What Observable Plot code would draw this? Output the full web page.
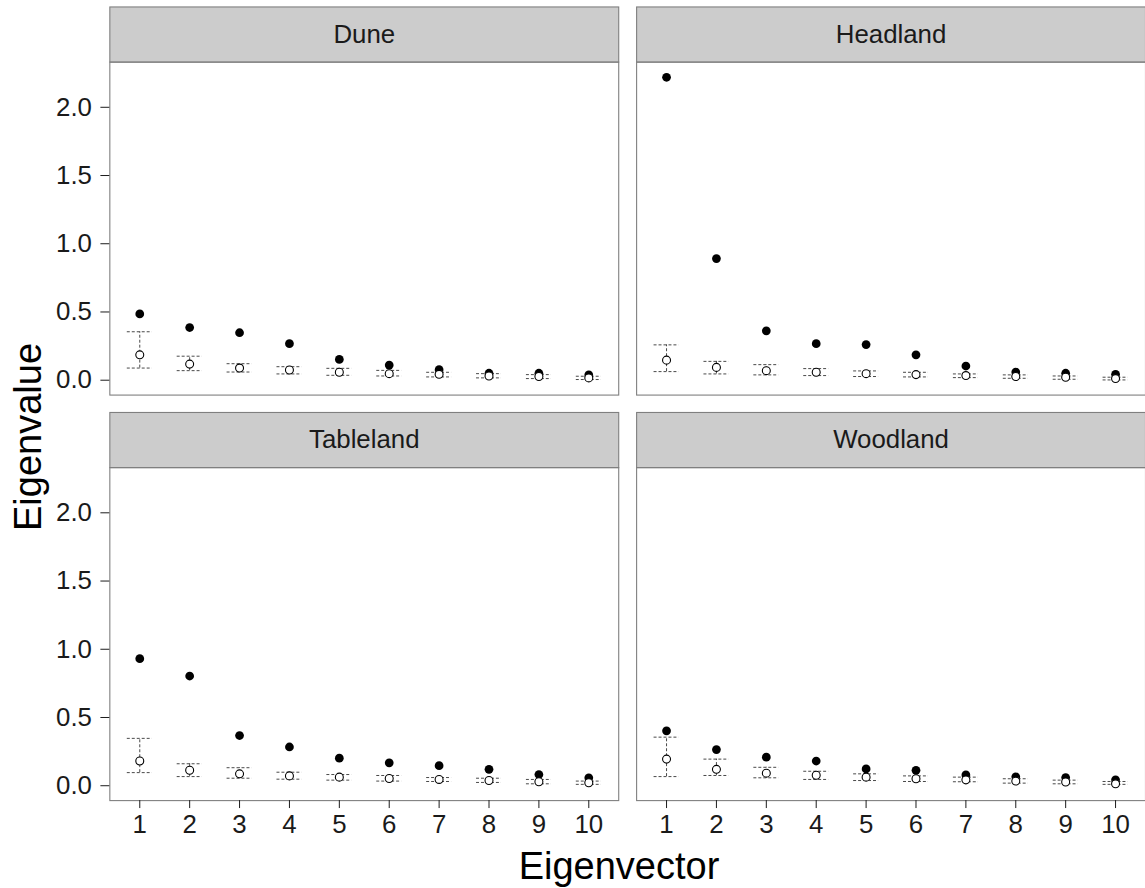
<!DOCTYPE html>
<html>
<head>
<meta charset="utf-8">
<script src="https://cdn.jsdelivr.net/npm/d3@7"></script>
<script src="https://cdn.jsdelivr.net/npm/@observablehq/plot@0.6"></script>
<style>
  html, body { margin: 0; padding: 0; background: #fff; overflow: hidden; }
  #wrap { position: relative; width: 1145px; height: 888px; overflow: hidden; font-family: "Liberation Sans", Arial, Helvetica, sans-serif; }
  #chart { position: absolute; left: 0; top: 0; }
  .title { position: absolute; color: #000; font-size: 38px; white-space: nowrap; line-height: 1; }
  #xtitle { left: 619px; top: 866px; transform: translate(-50%, -50%); }
  #ytitle { left: 28px; top: 437px; transform: translate(-50%, -50%) rotate(-90deg); }
</style>
</head>
<body>
<div id="wrap">
  <div id="chart"></div>
  <div class="title" id="xtitle">Eigenvector</div>
  <div class="title" id="ytitle">Eigenvalue</div>
</div>
<script>
// ---- data ----
const panels = ["Dune", "Headland", "Tableland", "Woodland"];
const eigenvectors = [1, 2, 3, 4, 5, 6, 7, 8, 9, 10];
const yTicks = [0, 0.5, 1, 1.5, 2];

const duneObserved = [0.486, 0.386, 0.348, 0.268, 0.152, 0.111, 0.077, 0.051, 0.051, 0.039];
const duneNull     = [0.186, 0.118, 0.089, 0.075, 0.058, 0.048, 0.043, 0.031, 0.027, 0.017];
const duneUpper    = [0.355, 0.176, 0.121, 0.099, 0.087, 0.072, 0.058, 0.048, 0.041, 0.029];
const duneLower    = [0.089, 0.070, 0.060, 0.046, 0.036, 0.031, 0.024, 0.017, 0.012, 0.005];

const headlandObserved = [2.220, 0.891, 0.362, 0.268, 0.261, 0.186, 0.104, 0.060, 0.051, 0.043];
const headlandNull     = [0.147, 0.094, 0.070, 0.058, 0.048, 0.041, 0.034, 0.027, 0.022, 0.012];
const headlandUpper    = [0.259, 0.138, 0.114, 0.085, 0.068, 0.058, 0.046, 0.039, 0.031, 0.022];
const headlandLower    = [0.063, 0.046, 0.039, 0.034, 0.027, 0.024, 0.019, 0.014, 0.007, 0.002];

const tablelandObserved = [0.931, 0.804, 0.368, 0.284, 0.202, 0.168, 0.147, 0.120, 0.082, 0.058];
const tablelandNull     = [0.181, 0.113, 0.087, 0.072, 0.063, 0.053, 0.046, 0.038, 0.029, 0.022];
const tablelandUpper    = [0.347, 0.161, 0.132, 0.099, 0.082, 0.075, 0.060, 0.055, 0.046, 0.034];
const tablelandLower    = [0.096, 0.067, 0.055, 0.048, 0.041, 0.034, 0.031, 0.024, 0.014, 0.010];

const woodlandObserved = [0.402, 0.265, 0.209, 0.181, 0.123, 0.113, 0.079, 0.065, 0.060, 0.043];
const woodlandNull     = [0.195, 0.120, 0.092, 0.077, 0.063, 0.051, 0.043, 0.034, 0.027, 0.014];
const woodlandUpper    = [0.356, 0.195, 0.135, 0.106, 0.087, 0.072, 0.063, 0.051, 0.041, 0.031];
const woodlandLower    = [0.067, 0.075, 0.058, 0.046, 0.038, 0.031, 0.029, 0.019, 0.014, 0.010];

const series = {
  Dune: [duneObserved, duneNull, duneUpper, duneLower],
  Headland: [headlandObserved, headlandNull, headlandUpper, headlandLower],
  Tableland: [tablelandObserved, tablelandNull, tablelandUpper, tablelandLower],
  Woodland: [woodlandObserved, woodlandNull, woodlandUpper, woodlandLower]
};

const panelRows = panels.map((name, i) => ({name, col: i % 2, row: Math.floor(i / 2)}));
const rows = panelRows.flatMap(p => {
  const [obs, nul, up, lo] = series[p.name];
  return eigenvectors.map((k, j) => ({panel: p.name, col: p.col, row: p.row, k, obs: obs[j], nul: nul[j], up: up[j], lo: lo[j]}));
});

// ---- layout ----
const W = 1152, H = 888;
const mL = 110, mR = 0, mT = 62, mB = 83;
const gapX = 18, gapY = 73, stripH = 55.5;
const panelW = (W - mL - mR - gapX) / 2;
const panelH = (H - mT - mB - gapY) / 2;
const fxPad = gapX / (panelW + gapX);
const fyPad = gapY / (panelH + gapY);
const halfWidth = 0.25;
const font = "'Liberation Sans', Arial, Helvetica, sans-serif";

const chart = Plot.plot({
  width: W,
  height: H,
  marginLeft: mL, marginRight: mR, marginTop: mT, marginBottom: mB,
  style: {fontFamily: font, fontSize: "26px", color: "#000", background: "transparent"},
  fx: {domain: [0, 1], axis: null, paddingInner: fxPad, paddingOuter: 0},
  fy: {domain: [0, 1], axis: null, paddingInner: fyPad, paddingOuter: 0},
  x: {domain: [0.4, 10.6]},
  y: {domain: [-0.109, 2.331]},
  marks: [
    Plot.frame({fill: "#cccccc", stroke: "#7f7f7f", strokeWidth: 1.1, insetTop: -stripH, insetBottom: panelH}),
    Plot.text(panelRows, {fx: "col", fy: "row", text: "name", frameAnchor: "top", lineAnchor: "middle", dy: -stripH / 2, fontSize: 26, fill: "#1a1a1a"}),
    Plot.frame({stroke: "#7f7f7f", strokeWidth: 1.1}),
    Plot.axisY({ticks: yTicks, tickFormat: d => d.toFixed(1), tickSize: 9, tickPadding: 9, fontSize: 26, color: "#1a1a1a", label: null}),
    Plot.axisX({ticks: eigenvectors, tickFormat: d => String(d), tickSize: 8, tickPadding: 6, fontSize: 26, color: "#1a1a1a", label: null}),
    Plot.ruleX(rows, {fx: "col", fy: "row", x: "k", y1: "lo", y2: "up", stroke: "#333", strokeWidth: 0.9, strokeDasharray: "3,2"}),
    Plot.ruleY(rows, {fx: "col", fy: "row", y: "up", x1: d => d.k - halfWidth, x2: d => d.k + halfWidth, stroke: "#333", strokeWidth: 0.9, strokeDasharray: "3,2"}),
    Plot.ruleY(rows, {fx: "col", fy: "row", y: "lo", x1: d => d.k - halfWidth, x2: d => d.k + halfWidth, stroke: "#333", strokeWidth: 0.9, strokeDasharray: "3,2"}),
    Plot.dot(rows, {fx: "col", fy: "row", x: "k", y: "obs", r: 4.4, fill: "#000", stroke: "none"}),
    Plot.dot(rows, {fx: "col", fy: "row", x: "k", y: "nul", r: 4, fill: "#fff", stroke: "#000", strokeWidth: 1.1})
  ]
});
document.getElementById("chart").appendChild(chart);
</script>
</body>
</html>
